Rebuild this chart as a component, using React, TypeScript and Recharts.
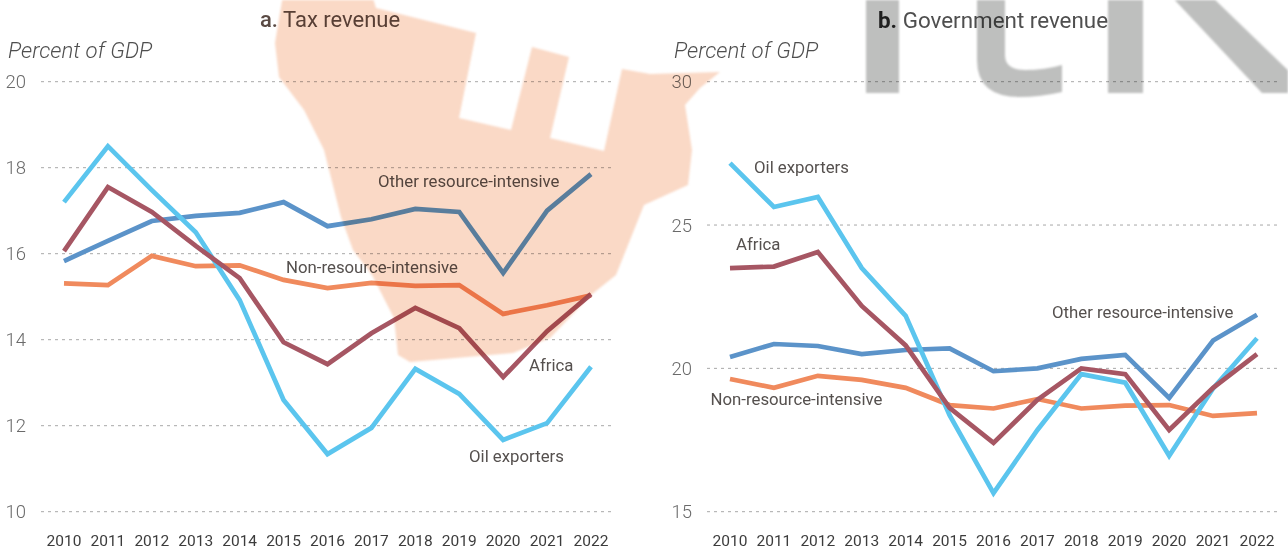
import React from "react";
import { LineChart, Line, XAxis, YAxis, CartesianGrid } from "recharts";

const years = ["2010","2011","2012","2013","2014","2015","2016","2017","2018","2019","2020","2021","2022"];

const taxOil = [17.2,18.5,17.48,16.5,14.92,12.6,11.34,11.95,13.32,12.74,11.67,12.06,13.37];
const taxAfrica = [16.06,17.55,16.97,16.18,15.43,13.94,13.43,14.15,14.74,14.27,13.13,14.2,15.06];
const taxOther = [15.83,16.3,16.76,16.88,16.95,17.2,16.64,16.8,17.04,16.97,15.55,17.0,17.85];
const taxNon = [15.31,15.27,15.95,15.71,15.73,15.39,15.2,15.32,15.25,15.27,14.6,14.8,15.03];

const govOil = [27.16,25.63,25.98,23.5,21.83,18.37,15.65,17.85,19.8,19.5,16.95,19.3,21.05];
const govAfrica = [23.5,23.55,24.06,22.18,20.8,18.62,17.4,18.9,20.0,19.8,17.85,19.32,20.5];
const govOther = [20.4,20.85,20.78,20.5,20.64,20.7,19.9,20.0,20.33,20.47,18.97,20.97,21.87];
const govNon = [19.63,19.32,19.74,19.6,19.32,18.72,18.6,18.93,18.6,18.7,18.72,18.34,18.44];

const taxTicks = [10,12,14,16,18,20];
const govTicks = [15,20,25,30];

const toRows = (oil: number[], africa: number[], other: number[], non: number[]) =>
  years.map((year, i) => ({ year, oil: oil[i], africa: africa[i], other: other[i], non: non[i] }));

const FONT = "Roboto, 'Liberation Sans', sans-serif";
const LABEL = "#55504e";

const colors = { oil: "#5BC5EE", africa: "#A65663", other: "#5B93C9", non: "#F08A5D" };

type Lbl = { text: string; x: number; y: number };

function Panel({ left, rows, ticks, domain, labels }: { left: number; rows: any[]; ticks: number[]; domain: [number, number]; labels: Lbl[] }) {
  return (
    <div style={{ position: "absolute", left, top: 0, width: 644, height: 551, mixBlendMode: "multiply" }}>
      <LineChart width={644} height={551} data={rows} margin={{ top: 81.7, right: 30, bottom: 0, left: 0 }}>
        <CartesianGrid horizontal vertical={false} stroke="#a8a8a8" strokeDasharray="3 4" strokeWidth={1} />
        <XAxis dataKey="year" scale="point" padding={{ left: 23, right: 23 }} height={39.3} axisLine={false} tickLine={false} tickMargin={17} interval={0}
          tick={{ fontFamily: FONT, fontWeight: 400, fontSize: 15.5, fill: "#3c3c3c" }} />
        <YAxis type="number" width={41} domain={domain} ticks={ticks} axisLine={false} tickLine={false} tickSize={0} tickMargin={15} interval={0}
          tick={{ fontFamily: FONT, fontWeight: 300, fontSize: 18.5, fill: "#6a6a6a" }} />
        <Line dataKey="non" stroke={colors.non} strokeWidth={4.7} dot={false} isAnimationActive={false} strokeLinejoin="miter" />
        <Line dataKey="other" stroke={colors.other} strokeWidth={4.7} dot={false} isAnimationActive={false} strokeLinejoin="miter" />
        <Line dataKey="oil" stroke={colors.oil} strokeWidth={4.7} dot={false} isAnimationActive={false} strokeLinejoin="miter" />
        <Line dataKey="africa" stroke={colors.africa} strokeWidth={4.7} dot={false} isAnimationActive={false} strokeLinejoin="miter" />
        {labels.map((l) => (
          <text key={l.text} x={l.x} y={l.y} fontFamily={FONT} fontSize={16.8} fill={LABEL}>{l.text}</text>
        ))}
      </LineChart>
    </div>
  );
}

const head: React.CSSProperties = { position: "absolute", fontFamily: FONT, whiteSpace: "nowrap", mixBlendMode: "multiply", color: "#4f4f4f" };

export default function App() {
  return (
    <div style={{ position: "absolute", left: 0, top: 0, width: 1288, height: 551, overflow: "hidden", background: "#fff" }}>
      <svg width={1288} height={551} style={{ position: "absolute", left: 0, top: 0, filter: "blur(0.8px)" }}>
        <polygon fill="#FAD9C6" points="283,-5 372,-5 376,8 476,33 459,118 511,130 532,47 569,57 550,138 604,151 622,69 650,74 720,72 700,88 685,105 692,150 688,185 644,205 630,240 616,275 591,295 550,338 513,353 410,362 398,355 394,318 372,275 353,250 341,217 324,150 304,110 279,77 275,43" />
        <g fill="#BEBFBE">
          <rect x={866} y={-5} width={33} height={98} />
          <path d="M977 -5 H1005 V55 Q1005 70 1025 70 Q1045 70 1062 65 V92 Q1040 97 1020 97 Q977 97 977 60 Z" />
          <rect x={1108} y={-5} width={35} height={98} />
          <polygon points="1170,-5 1210,-5 1293,75 1293,93 1262,93" />
        </g>
      </svg>
      <Panel left={0} rows={toRows(taxOil, taxAfrica, taxOther, taxNon)} ticks={taxTicks} domain={[10, 20]} labels={[
        { text: "Other resource-intensive", x: 378, y: 187 },
        { text: "Non-resource-intensive", x: 286, y: 273 },
        { text: "Africa", x: 529, y: 371 },
        { text: "Oil exporters", x: 469, y: 462 },
      ]} />
      <Panel left={666} rows={toRows(govOil, govAfrica, govOther, govNon)} ticks={govTicks} domain={[15, 30]} labels={[
        { text: "Oil exporters", x: 88, y: 173 },
        { text: "Africa", x: 70, y: 250 },
        { text: "Other resource-intensive", x: 386, y: 318 },
        { text: "Non-resource-intensive", x: 44.5, y: 405 },
      ]} />
      <div style={{ ...head, left: 260, top: 7, fontSize: 22, color: "#5a4a44" }}><span style={{ fontWeight: 500 }}>a.</span> Tax revenue</div>
      <div style={{ ...head, left: 878, top: 7, fontSize: 22.4 }}><span style={{ color: "#2a2a2a", fontWeight: 700 }}>b.</span> Government revenue</div>
      <div style={{ ...head, left: 8, top: 37, fontSize: 22.2, fontWeight: 300, fontStyle: "italic" }}>Percent of GDP</div>
      <div style={{ ...head, left: 674, top: 37, fontSize: 22.2, fontWeight: 300, fontStyle: "italic" }}>Percent of GDP</div>
    </div>
  );
}
